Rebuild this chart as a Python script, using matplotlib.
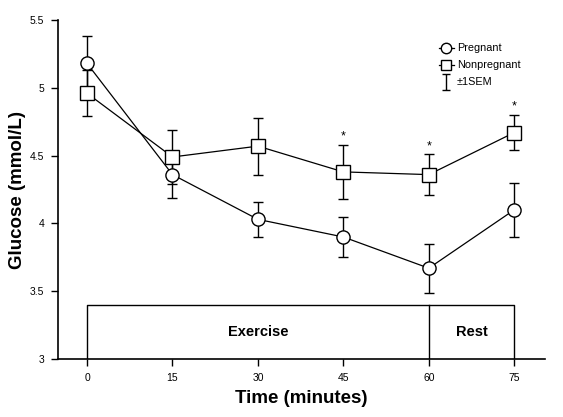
import matplotlib.pyplot as plt
from matplotlib.lines import Line2D
from matplotlib.path import Path

plt.rcParams['font.family'] = ['Liberation Sans', 'DejaVu Sans']

time = [0, 15, 30, 45, 60, 75]
pregnant = [5.18, 4.36, 4.03, 3.90, 3.67, 4.10]
pregnant_sem = [0.20, 0.17, 0.13, 0.15, 0.18, 0.20]
nonpregnant = [4.96, 4.49, 4.57, 4.38, 4.36, 4.67]
nonpregnant_sem = [0.17, 0.20, 0.21, 0.20, 0.15, 0.13]
signif_times = [45, 60, 75]
phases = [("Exercise", 0, 60), ("Rest", 60, 75)]

fig = plt.figure(figsize=(5.63, 4.17), dpi=100)
ax = fig.add_axes([0.103, 0.139, 0.865, 0.813])

ax.errorbar(time, pregnant, yerr=pregnant_sem, color="black", lw=0.9,
            marker="o", ms=9.5, mfc="white", mec="black", mew=1.0,
            capsize=3.5, capthick=1.6, elinewidth=1.0, zorder=3)
ax.errorbar(time, nonpregnant, yerr=nonpregnant_sem, color="black", lw=0.9,
            marker="s", ms=9.5, mfc="white", mec="black", mew=1.0,
            capsize=3.5, capthick=1.6, elinewidth=1.0, zorder=3)

# significance stars above the nonpregnant error bars
for t in signif_times:
    i = time.index(t)
    ax.text(t, nonpregnant[i] + nonpregnant_sem[i] + 0.06, "*", ha="center",
            va="center", fontsize=9)

# exercise / rest box
box_top = 3.4
ax.plot([0, 0, 75, 75], [3, box_top, box_top, 3], color="black", lw=1.0)
ax.plot([60, 60], [3, box_top], color="black", lw=1.0)
for name, start, end in phases:
    ax.text((start + end) / 2, 3.2, name, ha="center", va="center",
            fontsize=10.5, fontweight="bold")

ax.set_xlim(-5.1, 80.4)
ax.set_ylim(3, 5.5)
ax.set_xticks(time)
ax.set_yticks([3, 3.5, 4, 4.5, 5, 5.5])
ax.set_yticklabels(["3", "3.5", "4", "4.5", "5", "5.5"])
ax.tick_params(labelsize=7.5, length=5, width=1.0, pad=5)
for s in ["top", "right"]:
    ax.spines[s].set_visible(False)
ax.spines["left"].set_linewidth(1.2)
ax.spines["bottom"].set_linewidth(1.2)

ax.set_xlabel("Time (minutes)", fontsize=13.5, fontweight="bold", labelpad=5)
ax.set_ylabel("Glucose (mmol/L)", fontsize=13.5, fontweight="bold")
ax.yaxis.set_label_coords(-0.066, 0.5)

# I-shaped marker for the SEM legend entry
sem_marker = Path([(-0.5, 1), (0.5, 1), (0, 1), (0, -1), (-0.5, -1), (0.5, -1)],
                  [Path.MOVETO, Path.LINETO, Path.MOVETO, Path.LINETO,
                   Path.MOVETO, Path.LINETO])
h1 = Line2D([], [], color="black", lw=0.9, marker="o", ms=7.5, mfc="white", mec="black")
h2 = Line2D([], [], color="black", lw=0.9, marker="s", ms=7.5, mfc="white", mec="black")
h3 = Line2D([], [], color="none", marker=sem_marker, ms=11, mec="black", mew=1.0)
ax.legend([h1, h2, h3], ["Pregnant", "Nonpregnant", "\u00b11SEM"],
          loc="upper right", bbox_to_anchor=(0.97, 0.96), frameon=False,
          fontsize=7.8, handlelength=1.4, handletextpad=0.3, labelspacing=0.65)

fig.savefig("out.png", dpi=100)
